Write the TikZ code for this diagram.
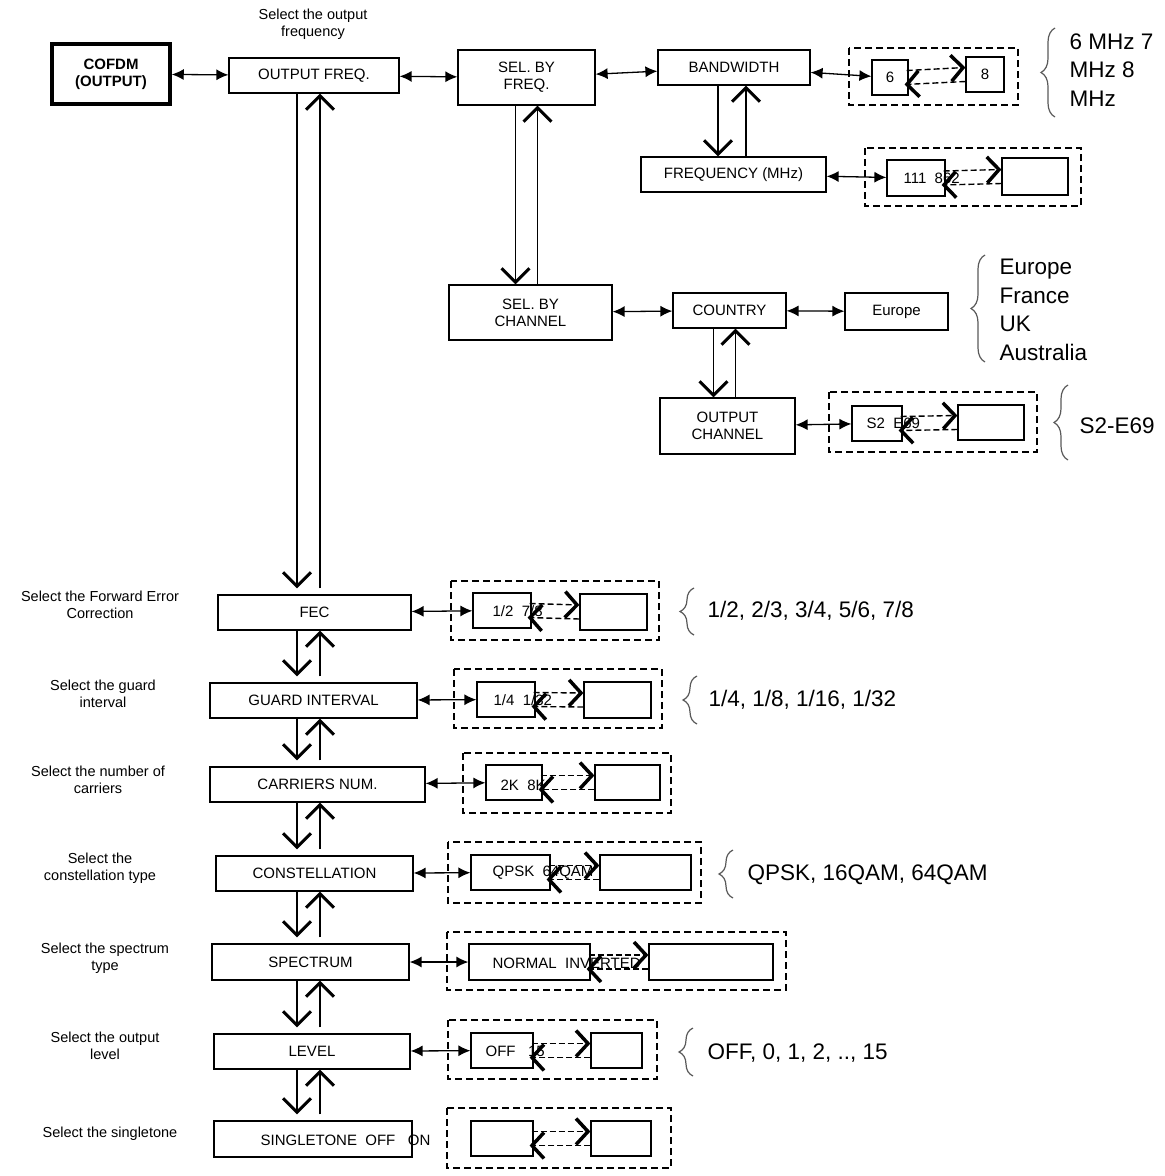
\documentclass[tikz,border=0pt]{standalone}
\usepackage{fontspec}
\setmainfont{Liberation Sans}
\usetikzlibrary{arrows.meta,decorations.pathreplacing}
\begin{document}
\begin{tikzpicture}[x=1pt,y=-1pt,
  box/.style={draw,line width=1.2pt,inner sep=0pt,font=\fontsize{15}{17}\selectfont,align=center},
  grp/.style={draw,dashed,line width=1.5pt,dash pattern=on 7pt off 4pt},
  lab/.style={font=\fontsize{14.5}{17}\selectfont,align=center},
  big/.style={font=\fontsize{22.5}{28.5}\selectfont,align=left,anchor=west},
  dbl/.style={{Latex[length=12pt,width=11pt]}-{Latex[length=12pt,width=11pt]},line width=1.3pt},
  vdn/.style={-{Straight Barb[length=14pt,width=28pt,line width=3pt]},line width=1.8pt},
  da/.style={dashed,dash pattern=on 6pt off 3pt,line width=1.4pt,-{Straight Barb[length=12pt,width=26pt,line width=3.5pt]}},
  br/.style={decorate,decoration={brace,amplitude=14pt},line width=1.2pt,gray!70!black}]
\useasboundingbox (0,0) rectangle (1165,1176);
\newcommand\bx[7][]{\node[box,#1,minimum width={(#4-#2)*1pt},minimum height={(#5-#3)*1pt}] (#6) at ({(#2+#4)/2},{(#3+#5)/2}) {#7};}
\newcommand\grp[4]{\draw[grp] (#1,#2) rectangle (#3,#4);}
\newcommand\dar[2]{\draw[da] ([yshift=7pt,xshift=-2pt]#1.east) -- ([yshift=7pt]#2.west);
  \draw[da] ([yshift=-7pt]#2.west) -- ([yshift=-7pt,xshift=-4pt]#1.east);}
\coordinate (xd) at (297,0);
\coordinate (xu) at (320,0);
% top
\node[lab] at (313,24) {Select the output\\frequency};
\bx[line width=3.5pt,font=\fontsize{15}{17}\selectfont\bfseries]{52}{44}{170}{104}{cofdm}{COFDM\\(OUTPUT)}
\bx{229}{58}{399}{93}{of}{OUTPUT FREQ.}
\bx{458}{50}{595}{105}{sf}{SEL. BY\\FREQ.}
\bx{658}{50}{810}{85}{bw}{BANDWIDTH}
\bx{641}{157}{826}{192}{fr}{FREQUENCY (MHz)}
\bx{449}{285}{612}{340}{sc}{SEL. BY\\CHANNEL}
\bx{673}{293}{786}{328}{co}{COUNTRY}
\bx{845}{293}{948}{330}{eu}{Europe}
\bx{660}{398}{795}{454}{oc}{OUTPUT\\CHANNEL}
\draw[dbl] (cofdm) -- (of);
\draw[dbl] (of) -- (sf);
\draw[dbl] (sf) -- (bw);
\draw[dbl] (sc) -- (co);
\draw[dbl] (co) -- (eu);
% group bandwidth
\grp{849}{48}{1018}{105}
\bx{872}{60}{908}{95}{b6}{6}
\bx{966}{57}{1004}{92}{b8}{8}
\draw[dbl] (bw) -- (b6);
\dar{b6}{b8}
\grp{865}{148}{1081}{206}
\bx{887}{160}{945}{196}{f1}{}
\node[box,draw=none,anchor=west] at (903,178) {111\ \ 862};
\bx{1002}{158}{1068}{195}{f2}{}
\draw[dbl] (fr) -- (f1);
\dar{f1}{f2}
\grp{829}{392}{1037}{452}
\bx{852}{406}{902}{441}{c1}{}
\node[box,draw=none,anchor=west] at (866,423) {S2\ \ E69};
\bx{958}{405}{1024}{440}{c2}{}
\draw[dbl] (oc) -- (c1);
\dar{c1}{c2}
% verticals top
\draw[vdn] ([xshift=-11pt]sf.south) -- ([xshift=-11pt]sf.south|-sc.north);
\draw[vdn] ([xshift=11pt]sf.south|-sc.north) -- ([xshift=11pt]sf.south);
\draw[vdn] ([xshift=-16pt]bw.south) -- ([xshift=-16pt]bw.south|-fr.north);
\draw[vdn] ([xshift=12pt]bw.south|-fr.north) -- ([xshift=12pt]bw.south);
\draw[vdn] ([xshift=-16pt]co.south) -- ([xshift=-16pt]co.south|-oc.north);
\draw[vdn] ([xshift=6pt]co.south|-oc.north) -- ([xshift=6pt]co.south);
% braces
\draw[br] (1055,117) -- (1055,28);
\node[big] at (1066,70) {6 MHz 7\\MHz 8\\MHz};
\draw[br] (985,362) -- (985,255);
\node[big] at (996,310) {Europe\\France\\UK\\Australia};
\draw[br] (1068,460) -- (1068,385);
\node[big] at (1076,426) {S2-E69};
% left column
\bx{218}{595}{411}{630}{fec}{FEC}
\bx{210}{683}{417}{718}{gi}{GUARD INTERVAL}
\bx{210}{767}{425}{802}{cn}{CARRIERS NUM.}
\bx{216}{856}{413}{891}{cs}{CONSTELLATION}
\bx{212}{944}{409}{980}{sp}{SPECTRUM}
\bx{214}{1034}{410}{1069}{lv}{LEVEL}
\bx{214}{1121}{412}{1157}{st}{}
\node[box,draw=none,anchor=west] at (260,1140) {SINGLETONE\ \ OFF\ \ \ ON};
\node[lab] at (100,605) {Select the Forward Error\\Correction};
\node[lab] at (103,694) {Select the guard\\interval};
\node[lab] at (98,780) {Select the number of\\carriers};
\node[lab] at (100,868) {Select the\\constellation type};
\node[lab] at (105,958) {Select the spectrum\\type};
\node[lab] at (105,1046) {Select the output\\level};
\node[lab] at (110,1134) {Select the singletone};
\foreach \a/\b in {of/fec,fec/gi,gi/cn,cn/cs,cs/sp,sp/lv,lv/st}{
  \draw[vdn] (xd|-\a.south) -- ([yshift=6pt]xd|-\b.north);
  \draw[vdn] ([yshift=6pt]xu|-\b.north) -- (xu|-\a.south);}
% FEC group
\grp{451}{581}{659}{640}
\bx{473}{593}{531}{628}{l1}{}\node[box,draw=none,anchor=west] at (492,611) {1/2\ \ 7/8};
\bx{580}{594}{647}{630}{r1}{}
\draw[dbl] (fec) -- (l1); \dar{l1}{r1}
\draw[br] (694,635) -- (694,588);
\node[big] at (704,611) {1/2, 2/3, 3/4, 5/6, 7/8};
% GI
\grp{454}{669}{662}{728}
\bx{477}{682}{535}{717}{l2}{}\node[box,draw=none,anchor=west] at (493,700) {1/4\ \ 1/32};
\bx{584}{682}{651}{718}{r2}{}
\draw[dbl] (gi) -- (l2); \dar{l2}{r2}
\draw[br] (697,724) -- (697,676);
\node[big] at (705,700) {1/4, 1/8, 1/16, 1/32};
% CN
\grp{463}{753}{671}{813}
\bx{486}{765}{542}{800}{l3}{}\node[box,draw=none,anchor=west] at (500,785) {2K\ \ 8K};
\bx{595}{765}{660}{800}{r3}{}
\draw[dbl] (cn) -- (l3); \dar{l3}{r3}
% CS
\grp{448}{842}{701}{903}
\bx{471}{855}{550}{890}{l4}{}\node[box,draw=none,anchor=west] at (492,873) {QPSK\ \ 64QAM};
\bx{600}{855}{691}{890}{r4}{}
\draw[dbl] (cs) -- (l4); \dar{l4}{r4}
\draw[br] (733,898) -- (733,850);
\node[big] at (744,875) {QPSK, 16QAM, 64QAM};
% SP
\grp{447}{932}{786}{990}
\bx{469}{944}{590}{980}{l5}{}\node[box,draw=none,anchor=west] at (492,963) {NORMAL\ \ INVERTED};
\bx{649}{944}{773}{980}{r5}{}
\draw[dbl] (sp) -- (l5); \dar{l5}{r5}
% LV
\grp{448}{1020}{657}{1079}
\bx{471}{1033}{533}{1068}{l6}{}\node[box,draw=none,anchor=west] at (485,1051) {OFF\ \ \ 15};
\bx{591}{1033}{642}{1068}{r6}{}
\draw[dbl] (lv) -- (l6); \dar{l6}{r6}
\draw[br] (693,1076) -- (693,1028);
\node[big] at (704,1053) {OFF, 0, 1, 2, .., 15};
% ST
\grp{447}{1108}{671}{1168}
\bx{471}{1121}{533}{1156}{l7}{}
\bx{591}{1121}{651}{1156}{r7}{}
\dar{l7}{r7}
\end{tikzpicture}
\end{document}
